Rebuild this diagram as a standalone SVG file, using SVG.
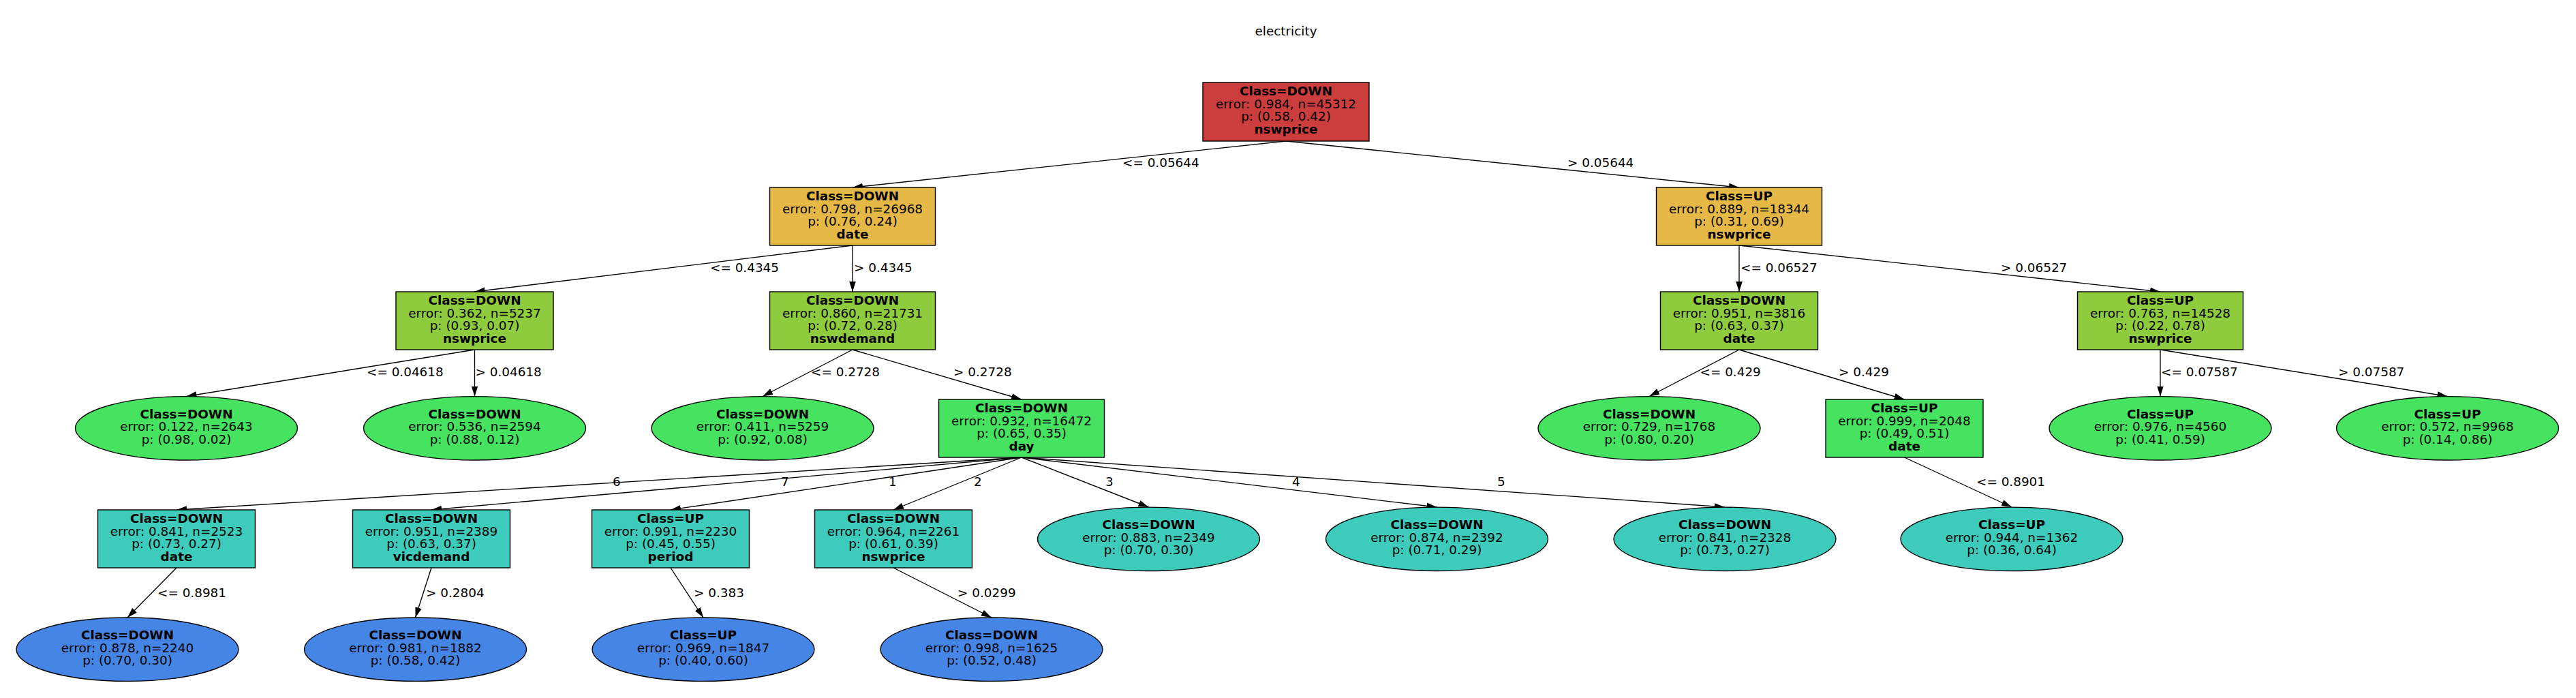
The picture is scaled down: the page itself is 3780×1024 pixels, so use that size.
<svg xmlns="http://www.w3.org/2000/svg" width="3780" height="1024" viewBox="0 0 3780 1024">
<style>
text{font-family:"DejaVu Sans","Liberation Sans",sans-serif;font-size:18.4px;fill:#000;text-anchor:middle}
.b{font-weight:bold}
.l{text-anchor:start}
.nd rect,.nd ellipse{stroke:#000;stroke-width:1.4}
.c0{fill:#cc3d3d}.c1{fill:#e6b845}.c2{fill:#8fcc3d}.c3{fill:#45e35f}.c4{fill:#3dccbb}.c5{fill:#4585e6}
#edges line{stroke:#000;stroke-width:1.35;marker-end:url(#ah)}
</style>
<defs>
<marker id="ah" markerUnits="userSpaceOnUse" markerWidth="16" markerHeight="10" refX="15" refY="4.8" orient="auto">
<path d="M0,0 L15,4.8 L0,9.6 z" fill="#000"/>
</marker>
</defs>
<rect width="3780" height="1024" fill="#fff"/>
<text x="1887" y="52">electricity</text>
<g id="edges">
<line x1="1887" y1="207" x2="1251" y2="275"/>
<line x1="1887" y1="207" x2="2552" y2="275"/>
<line x1="1251" y1="360" x2="696.5" y2="428"/>
<line x1="1251" y1="360" x2="1251" y2="428"/>
<line x1="2552" y1="360" x2="2552" y2="428"/>
<line x1="2552" y1="360" x2="3170" y2="428"/>
<line x1="696.5" y1="513" x2="273.5" y2="581.5"/>
<line x1="696.5" y1="513" x2="696.5" y2="581.5"/>
<line x1="1251" y1="513" x2="1119" y2="581.5"/>
<line x1="1251" y1="513" x2="1499" y2="586"/>
<line x1="2552" y1="513" x2="2420" y2="581.5"/>
<line x1="2552" y1="513" x2="2794.5" y2="586"/>
<line x1="3170" y1="513" x2="3170" y2="581.5"/>
<line x1="3170" y1="513" x2="3591.5" y2="581.5"/>
<line x1="1499" y1="671" x2="259" y2="748"/>
<line x1="1499" y1="671" x2="633" y2="748"/>
<line x1="1499" y1="671" x2="984" y2="748"/>
<line x1="1499" y1="671" x2="1311" y2="748"/>
<line x1="1499" y1="671" x2="1685.5" y2="744"/>
<line x1="1499" y1="671" x2="2108.5" y2="744"/>
<line x1="1499" y1="671" x2="2531" y2="744"/>
<line x1="2794.5" y1="671" x2="2952" y2="744"/>
<line x1="259" y1="833" x2="187" y2="906"/>
<line x1="633" y1="833" x2="609.5" y2="906"/>
<line x1="984" y1="833" x2="1032" y2="906"/>
<line x1="1311" y1="833" x2="1455" y2="906"/>
<text class="l" x="1647" y="245">&lt;= 0.05644</text>
<text class="l" x="2300" y="245">&gt; 0.05644</text>
<text class="l" x="1042" y="399">&lt;= 0.4345</text>
<text class="l" x="1253" y="399">&gt; 0.4345</text>
<text class="l" x="2554" y="399">&lt;= 0.06527</text>
<text class="l" x="2936" y="399">&gt; 0.06527</text>
<text class="l" x="538" y="552">&lt;= 0.04618</text>
<text class="l" x="697.5" y="552">&gt; 0.04618</text>
<text class="l" x="1190" y="552">&lt;= 0.2728</text>
<text class="l" x="1399" y="552">&gt; 0.2728</text>
<text class="l" x="2494.5" y="552">&lt;= 0.429</text>
<text class="l" x="2698" y="552">&gt; 0.429</text>
<text class="l" x="3171" y="552">&lt;= 0.07587</text>
<text class="l" x="3431" y="552">&gt; 0.07587</text>
<text class="l" x="899" y="713">6</text>
<text class="l" x="1146" y="713">7</text>
<text class="l" x="1304" y="713">1</text>
<text class="l" x="1429" y="713">2</text>
<text class="l" x="1622" y="713">3</text>
<text class="l" x="1896" y="713">4</text>
<text class="l" x="2197" y="713">5</text>
<text class="l" x="2900" y="713">&lt;= 0.8901</text>
<text class="l" x="231" y="876">&lt;= 0.8981</text>
<text class="l" x="625" y="876">&gt; 0.2804</text>
<text class="l" x="1018" y="876">&gt; 0.383</text>
<text class="l" x="1405" y="876">&gt; 0.0299</text>
</g>
<g id="nodes">
<g id="n0" class="nd"><rect class="c0" x="1765" y="121" width="244" height="86"/>
<text class="b" x="1887" y="140">Class=DOWN</text><text x="1887" y="158.5">error: 0.984, n=45312</text><text x="1887" y="177">p: (0.58, 0.42)</text><text class="b" x="1887" y="195.5">nswprice</text></g>
<g id="n1" class="nd"><rect class="c1" x="1129.5" y="275" width="243" height="85"/>
<text class="b" x="1251" y="294">Class=DOWN</text><text x="1251" y="312.5">error: 0.798, n=26968</text><text x="1251" y="331">p: (0.76, 0.24)</text><text class="b" x="1251" y="349.5">date</text></g>
<g id="n2" class="nd"><rect class="c1" x="2430.5" y="275" width="243" height="85"/>
<text class="b" x="2552" y="294">Class=UP</text><text x="2552" y="312.5">error: 0.889, n=18344</text><text x="2552" y="331">p: (0.31, 0.69)</text><text class="b" x="2552" y="349.5">nswprice</text></g>
<g id="n3" class="nd"><rect class="c2" x="581" y="428" width="231" height="85"/>
<text class="b" x="696.5" y="447">Class=DOWN</text><text x="696.5" y="465.5">error: 0.362, n=5237</text><text x="696.5" y="484">p: (0.93, 0.07)</text><text class="b" x="696.5" y="502.5">nswprice</text></g>
<g id="n4" class="nd"><rect class="c2" x="1129.5" y="428" width="243" height="85"/>
<text class="b" x="1251" y="447">Class=DOWN</text><text x="1251" y="465.5">error: 0.860, n=21731</text><text x="1251" y="484">p: (0.72, 0.28)</text><text class="b" x="1251" y="502.5">nswdemand</text></g>
<g id="n5" class="nd"><rect class="c2" x="2436.5" y="428" width="231" height="85"/>
<text class="b" x="2552" y="447">Class=DOWN</text><text x="2552" y="465.5">error: 0.951, n=3816</text><text x="2552" y="484">p: (0.63, 0.37)</text><text class="b" x="2552" y="502.5">date</text></g>
<g id="n6" class="nd"><rect class="c2" x="3048.5" y="428" width="243" height="85"/>
<text class="b" x="3170" y="447">Class=UP</text><text x="3170" y="465.5">error: 0.763, n=14528</text><text x="3170" y="484">p: (0.22, 0.78)</text><text class="b" x="3170" y="502.5">nswprice</text></g>
<g id="n7" class="nd"><ellipse class="c3" cx="273.5" cy="628.3" rx="163" ry="46.7"/>
<text class="b" x="273.5" y="613.5">Class=DOWN</text><text x="273.5" y="632">error: 0.122, n=2643</text><text x="273.5" y="650.5">p: (0.98, 0.02)</text></g>
<g id="n8" class="nd"><ellipse class="c3" cx="696.5" cy="628.3" rx="163" ry="46.7"/>
<text class="b" x="696.5" y="613.5">Class=DOWN</text><text x="696.5" y="632">error: 0.536, n=2594</text><text x="696.5" y="650.5">p: (0.88, 0.12)</text></g>
<g id="n9" class="nd"><ellipse class="c3" cx="1119" cy="628.3" rx="163" ry="46.7"/>
<text class="b" x="1119" y="613.5">Class=DOWN</text><text x="1119" y="632">error: 0.411, n=5259</text><text x="1119" y="650.5">p: (0.92, 0.08)</text></g>
<g id="n10" class="nd"><rect class="c3" x="1377.5" y="586" width="243" height="85"/>
<text class="b" x="1499" y="605">Class=DOWN</text><text x="1499" y="623.5">error: 0.932, n=16472</text><text x="1499" y="642">p: (0.65, 0.35)</text><text class="b" x="1499" y="660.5">day</text></g>
<g id="n11" class="nd"><ellipse class="c3" cx="2420" cy="628.3" rx="163" ry="46.7"/>
<text class="b" x="2420" y="613.5">Class=DOWN</text><text x="2420" y="632">error: 0.729, n=1768</text><text x="2420" y="650.5">p: (0.80, 0.20)</text></g>
<g id="n12" class="nd"><rect class="c3" x="2679" y="586" width="231" height="85"/>
<text class="b" x="2794.5" y="605">Class=UP</text><text x="2794.5" y="623.5">error: 0.999, n=2048</text><text x="2794.5" y="642">p: (0.49, 0.51)</text><text class="b" x="2794.5" y="660.5">date</text></g>
<g id="n13" class="nd"><ellipse class="c3" cx="3170" cy="628.3" rx="163" ry="46.7"/>
<text class="b" x="3170" y="613.5">Class=UP</text><text x="3170" y="632">error: 0.976, n=4560</text><text x="3170" y="650.5">p: (0.41, 0.59)</text></g>
<g id="n14" class="nd"><ellipse class="c3" cx="3591.5" cy="628.3" rx="163" ry="46.7"/>
<text class="b" x="3591.5" y="613.5">Class=UP</text><text x="3591.5" y="632">error: 0.572, n=9968</text><text x="3591.5" y="650.5">p: (0.14, 0.86)</text></g>
<g id="n15" class="nd"><rect class="c4" x="143.5" y="748" width="231" height="85"/>
<text class="b" x="259" y="767">Class=DOWN</text><text x="259" y="785.5">error: 0.841, n=2523</text><text x="259" y="804">p: (0.73, 0.27)</text><text class="b" x="259" y="822.5">date</text></g>
<g id="n16" class="nd"><rect class="c4" x="517.5" y="748" width="231" height="85"/>
<text class="b" x="633" y="767">Class=DOWN</text><text x="633" y="785.5">error: 0.951, n=2389</text><text x="633" y="804">p: (0.63, 0.37)</text><text class="b" x="633" y="822.5">vicdemand</text></g>
<g id="n17" class="nd"><rect class="c4" x="868.5" y="748" width="231" height="85"/>
<text class="b" x="984" y="767">Class=UP</text><text x="984" y="785.5">error: 0.991, n=2230</text><text x="984" y="804">p: (0.45, 0.55)</text><text class="b" x="984" y="822.5">period</text></g>
<g id="n18" class="nd"><rect class="c4" x="1195.5" y="748" width="231" height="85"/>
<text class="b" x="1311" y="767">Class=DOWN</text><text x="1311" y="785.5">error: 0.964, n=2261</text><text x="1311" y="804">p: (0.61, 0.39)</text><text class="b" x="1311" y="822.5">nswprice</text></g>
<g id="n19" class="nd"><ellipse class="c4" cx="1685.5" cy="790.8" rx="163" ry="46.7"/>
<text class="b" x="1685.5" y="776">Class=DOWN</text><text x="1685.5" y="794.5">error: 0.883, n=2349</text><text x="1685.5" y="813">p: (0.70, 0.30)</text></g>
<g id="n20" class="nd"><ellipse class="c4" cx="2108.5" cy="790.8" rx="163" ry="46.7"/>
<text class="b" x="2108.5" y="776">Class=DOWN</text><text x="2108.5" y="794.5">error: 0.874, n=2392</text><text x="2108.5" y="813">p: (0.71, 0.29)</text></g>
<g id="n21" class="nd"><ellipse class="c4" cx="2531" cy="790.8" rx="163" ry="46.7"/>
<text class="b" x="2531" y="776">Class=DOWN</text><text x="2531" y="794.5">error: 0.841, n=2328</text><text x="2531" y="813">p: (0.73, 0.27)</text></g>
<g id="n22" class="nd"><ellipse class="c4" cx="2952" cy="790.8" rx="163" ry="46.7"/>
<text class="b" x="2952" y="776">Class=UP</text><text x="2952" y="794.5">error: 0.944, n=1362</text><text x="2952" y="813">p: (0.36, 0.64)</text></g>
<g id="n23" class="nd"><ellipse class="c5" cx="187" cy="952.7" rx="163" ry="46.7"/>
<text class="b" x="187" y="938">Class=DOWN</text><text x="187" y="956.5">error: 0.878, n=2240</text><text x="187" y="975">p: (0.70, 0.30)</text></g>
<g id="n24" class="nd"><ellipse class="c5" cx="609.5" cy="952.7" rx="163" ry="46.7"/>
<text class="b" x="609.5" y="938">Class=DOWN</text><text x="609.5" y="956.5">error: 0.981, n=1882</text><text x="609.5" y="975">p: (0.58, 0.42)</text></g>
<g id="n25" class="nd"><ellipse class="c5" cx="1032" cy="952.7" rx="163" ry="46.7"/>
<text class="b" x="1032" y="938">Class=UP</text><text x="1032" y="956.5">error: 0.969, n=1847</text><text x="1032" y="975">p: (0.40, 0.60)</text></g>
<g id="n26" class="nd"><ellipse class="c5" cx="1455" cy="952.7" rx="163" ry="46.7"/>
<text class="b" x="1455" y="938">Class=DOWN</text><text x="1455" y="956.5">error: 0.998, n=1625</text><text x="1455" y="975">p: (0.52, 0.48)</text></g>
</g>
</svg>
